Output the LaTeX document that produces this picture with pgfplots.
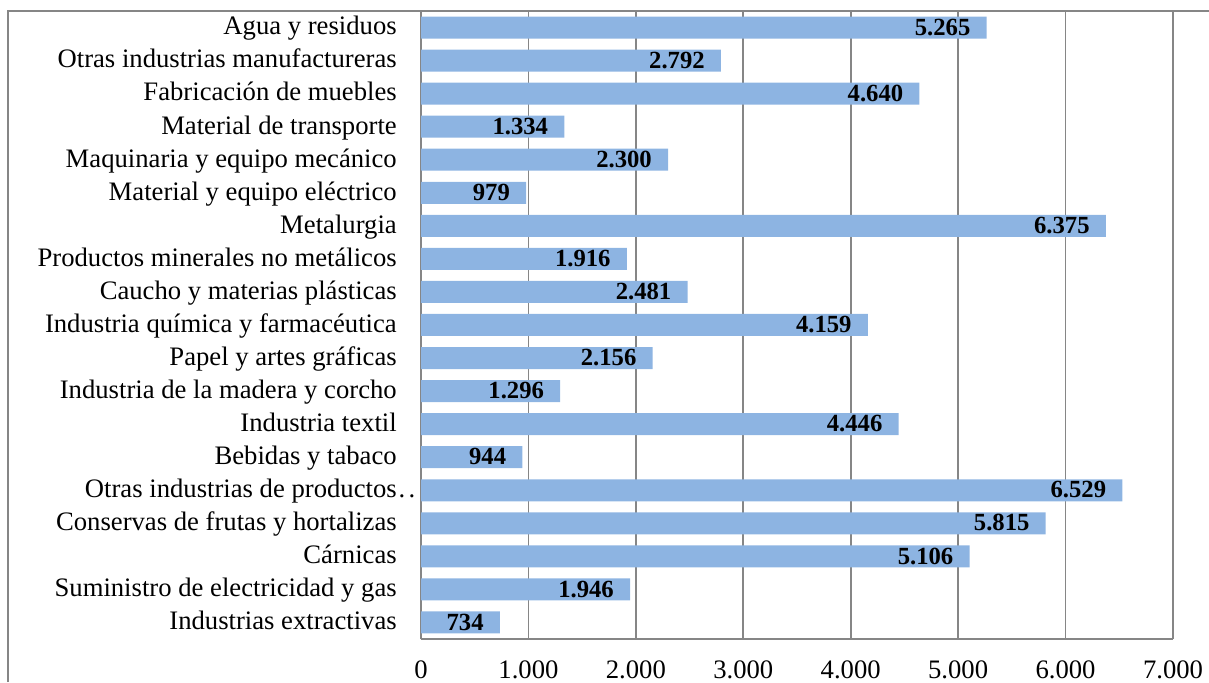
\documentclass[border=0pt]{standalone}
\usepackage{pgfplots}
\pgfplotsset{compat=1.18}
\usepackage{fontspec}
\setmainfont{Liberation Serif}
\definecolor{barblue}{RGB}{141,180,226}
\definecolor{gridgray}{RGB}{134,134,134}
\begin{document}
\begin{tikzpicture}
\useasboundingbox (0pt,0pt) rectangle (906.75pt,511.5pt);
\draw[gridgray,line width=1.2pt] (6pt,0pt) -- (6pt,503.25pt) -- (906.75pt,503.25pt);
\begin{axis}[
  at={(315.75pt,32.25pt)}, anchor=south west,
  scale only axis,
  width=564pt, height=471pt,
  xbar, bar width=16.5pt,
  xmin=0, xmax=7000, ymin=-0.5, ymax=18.5,
  xtick={0,1000,...,7000},
  ytick={0,...,18},
  yticklabels={Industrias extractivas,Suministro de electricidad y gas,Cárnicas,Conservas de frutas y hortalizas,Otras industrias de productos\rlap{\hspace{1.5pt}.\hspace{2.5pt}.},Bebidas y tabaco,Industria textil,Industria de la madera y corcho,Papel y artes gráficas,Industria química y farmacéutica,Caucho y materias plásticas,Productos minerales no metálicos,Metalurgia,Material y equipo eléctrico,Maquinaria y equipo mecánico,Material de transporte,Fabricación de muebles,Otras industrias manufactureras,Agua y residuos},
  major tick length=0pt,
  axis x line*=bottom, axis y line*=left,
  axis line style={gridgray,line width=1.2pt,-},
  xmajorgrids, major grid style={gridgray,line width=1.2pt},
  tick label style={font=\fontsize{20}{24}\selectfont},
  /pgf/number format/.cd, assume math mode=true, 1000 sep={.}, /pgfplots/.cd,
  xticklabel style={anchor=base, inner sep=0pt, yshift=-29.5pt},
  yticklabel style={anchor=base east, inner sep=0pt, xshift=-18pt, yshift=-5.5pt},
  nodes near coords,
  every node near coord/.append style={font=\fontsize{18.5}{22}\selectfont\bfseries, anchor=base east, inner sep=0pt, xshift=-12pt, yshift=-5.75pt, text=black},
  clip=false,
]
\addplot[fill=barblue, draw=none] coordinates {
(734,0) (1946,1) (5106,2) (5815,3) (6529,4) (944,5) (4446,6) (1296,7) (2156,8) (4159,9) (2481,10) (1916,11) (6375,12) (979,13) (2300,14) (1334,15) (4640,16) (2792,17) (5265,18)
};
\end{axis}
\end{tikzpicture}
\end{document}
